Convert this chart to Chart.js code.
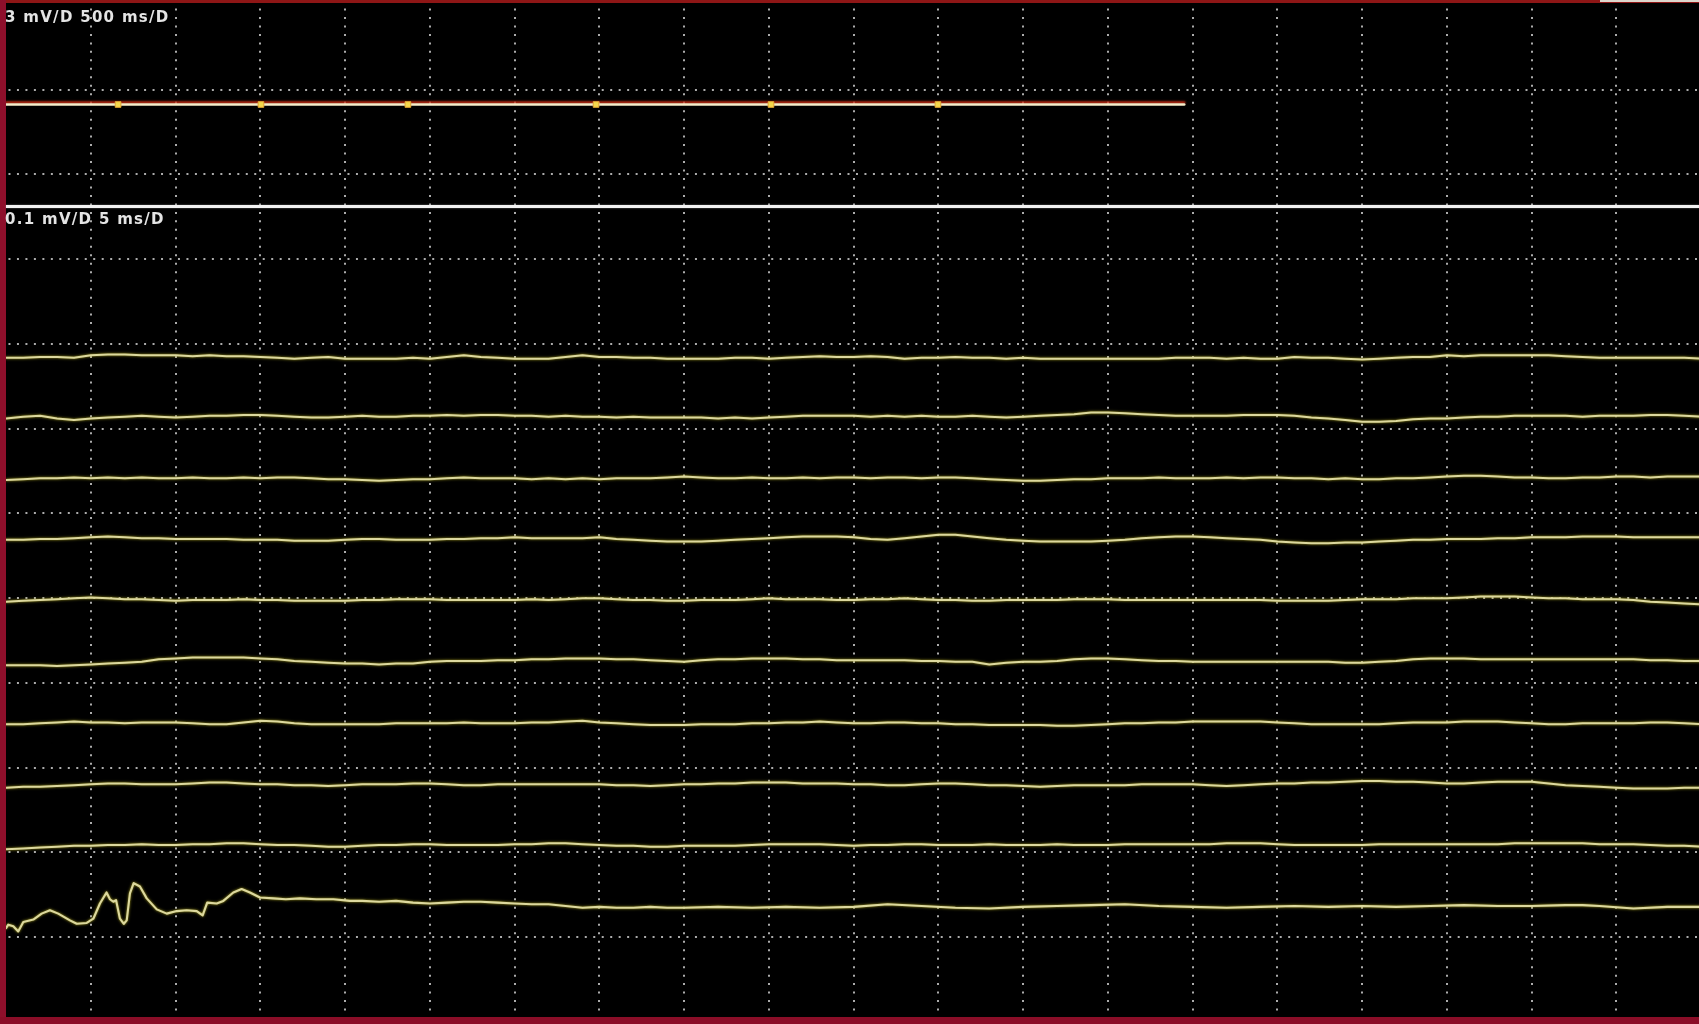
<!DOCTYPE html>
<html>
<head>
<meta charset="utf-8">
<title>ECG sweeps</title>
<script src="https://cdn.jsdelivr.net/npm/chart.js@4/dist/chart.umd.min.js"></script>
<style>
  html, body { margin: 0; padding: 0; background: #000; overflow: hidden; }
  #stage { position: relative; width: 1699px; height: 1024px; background: #000; }
  #ecg { position: absolute; left: 0; top: 0; }
  .frame { position: absolute; pointer-events: none; }
  .scale-label {
    position: absolute; left: 5px; margin: 0;
    font: bold 15px/15px "DejaVu Sans", sans-serif;
    letter-spacing: 1.3px; color: #e4e4e4; white-space: nowrap;
  }
</style>
</head>
<body>
<div id="stage">
  <canvas id="ecg" width="1699" height="1024"></canvas>
  <div class="frame" style="left:0;top:0;width:1699px;height:3px;background:#8e1616;"></div>
  <div class="frame" style="left:1600px;top:0;width:99px;height:2px;background:#ddd6cc;"></div>
  <div class="frame" style="left:0;top:0;width:6px;height:1024px;background:#8e0f2b;"></div>
  <div class="frame" style="left:0;top:1017px;width:1699px;height:7px;background:#8a0d27;"></div>
  <div class="frame" style="left:6px;top:204.5px;width:1693px;height:3.5px;background:#f2f2f2;box-shadow:0 0 1.5px #9a9a9a;"></div>
  <p class="scale-label" id="rhythmLabel" style="top:10px;"></p>
  <p class="scale-label" id="sweepLabel" style="top:212px;"></p>
</div>
<script>
// ---- Scales shown in the two panels ----
const RHYTHM_MV_PER_DIV = 3;
const RHYTHM_MS_PER_DIV = 500;
const SWEEP_MV_PER_DIV = 0.1;
const SWEEP_MS_PER_DIV = 5;

// ---- Rhythm strip (mV) ----
const rhythmTimesMs = [0, 500, 1000, 1500, 2000, 2500, 3000, 3500, 4000, 4500, 5000, 5500, 6000, 6500, 6950];
const rhythmMv      = [0, 0, 0, 0, 0, 0, 0, 0, 0, 0, 0, 0, 0, 0, 0];
// detected beats on the rhythm strip
const beatTimesMs = [660, 1503, 2370, 3480, 4512, 5497];

// ---- Sweeps, sampled every 1 ms (values in µV) ----
const sweepTimesMs = [
  0, 1, 2, 3, 4, 5, 6, 7, 8, 9,
  10, 11, 12, 13, 14, 15, 16, 17, 18, 19,
  20, 21, 22, 23, 24, 25, 26, 27, 28, 29,
  30, 31, 32, 33, 34, 35, 36, 37, 38, 39,
  40, 41, 42, 43, 44, 45, 46, 47, 48, 49,
  50, 51, 52, 53, 54, 55, 56, 57, 58, 59,
  60, 61, 62, 63, 64, 65, 66, 67, 68, 69,
  70, 71, 72, 73, 74, 75, 76, 77, 78, 79,
  80, 81, 82, 83, 84, 85, 86, 87, 88, 89,
  90, 91, 92, 93, 94, 95, 96, 97, 98, 99,
  100
];

const sweep1Uv = [
  -1, -1, 0, 0, -1, 2, 3, 3, 2, 2,
  2, 1, 2, 1, 1, 0, -1, -2, -1, 0,
  -2, -2, -2, -2, -1, -2, 0, 2, 0, -1,
  -2, -2, -2, 0, 2, 0, 0, -1, -1, -2,
  -2, -2, -2, -1, -1, -2, -1, 0, 1, 0,
  0, 1, 0, -2, -1, -1, 0, -1, -1, -2,
  -1, -2, -2, -2, -2, -2, -2, -2, -2, -1,
  -1, -1, -2, -1, -2, -2, 0, -1, -1, -2,
  -3, -2, -1, 0, 0, 2, 1, 2, 2, 2,
  2, 2, 1, 0, -1, -1, -1, -1, -1, -1,
  -2
];

const sweep2Uv = [
  -2, 0, 1, -2, -4, -2, -1, 0, 1, 0,
  -1, 0, 1, 1, 2, 2, 1, 0, -1, -1,
  0, 1, 0, 0, 1, 1, 2, 1, 2, 2,
  1, 1, 0, 1, 0, 0, -1, 0, -1, -1,
  -1, -1, -2, -1, -2, -1, 0, 1, 1, 1,
  1, 0, 1, 0, 1, 0, 0, 1, 0, -1,
  0, 1, 2, 3, 5, 5, 4, 3, 2, 1,
  1, 1, 1, 2, 2, 2, 1, -1, -2, -4,
  -6, -6, -5, -3, -2, -2, -1, 0, 0, 1,
  1, 1, 1, 0, 1, 1, 1, 2, 2, 1,
  0
];

const sweep3Uv = [
  -2, -1, 0, 0, 1, 0, 1, 0, 1, 0,
  0, 1, 0, 0, 1, 0, 1, 1, 0, -1,
  -1, -2, -3, -2, -1, -1, 0, 1, 0, 0,
  0, -1, 0, -1, 0, -1, 0, 0, 0, 1,
  2, 1, 0, 0, 1, 0, 0, 1, 0, 1,
  1, 0, 1, 1, 0, 1, 1, 0, -1, -2,
  -3, -3, -2, -1, -1, 0, 0, 0, 1, 0,
  0, 0, 1, 0, 1, 1, 0, 0, -1, 0,
  -1, -1, 0, 0, 1, 2, 3, 3, 2, 1,
  1, 0, 0, 1, 1, 2, 2, 1, 2, 2,
  2
];

const sweep4Uv = [
  -1, -1, 0, 0, 1, 2, 3, 2, 1, 1,
  0, 0, 0, 0, -1, -1, -1, -2, -2, -2,
  -1, 0, 0, -1, -1, -1, 0, 0, 1, 1,
  2, 1, 1, 1, 1, 2, 0, -1, -2, -3,
  -3, -3, -2, -1, 0, 1, 2, 3, 3, 3,
  2, 0, -1, 1, 3, 5, 5, 3, 1, -1,
  -2, -3, -3, -3, -3, -2, -1, 1, 2, 3,
  3, 2, 1, 0, -1, -3, -4, -5, -5, -4,
  -4, -3, -2, -1, -1, 0, 0, 0, 1, 1,
  2, 2, 2, 3, 3, 3, 2, 2, 2, 2,
  2
];

const sweep5Uv = [
  -2, -1, 0, 1, 2, 3, 2, 1, 1, 0,
  -1, 0, 0, 0, 1, 0, 0, -1, -1, -1,
  -1, 0, 0, 1, 1, 1, 0, 0, 0, 0,
  0, 1, 0, 1, 2, 2, 1, 0, 0, -1,
  -1, 0, 0, 0, 1, 2, 1, 1, 1, 0,
  0, 1, 1, 2, 1, 0, 0, -1, -1, 0,
  0, 0, 0, 1, 1, 1, 0, 0, 0, 0,
  0, 0, 0, 0, 0, -1, -1, -1, -1, 0,
  1, 1, 1, 2, 2, 2, 3, 4, 4, 4,
  3, 2, 2, 1, 1, 1, 0, -2, -3, -4,
  -5
];

const sweep6Uv = [
  -5, -5, -5, -6, -5, -4, -3, -2, -1, 2,
  3, 4, 4, 4, 4, 3, 2, 0, -1, -2,
  -3, -3, -4, -3, -3, -1, 0, 0, 0, 1,
  1, 2, 2, 3, 3, 3, 2, 2, 1, 0,
  -1, 1, 2, 2, 3, 3, 3, 2, 2, 1,
  1, 1, 1, 1, 0, 0, -1, -1, -4, -2,
  -1, -1, 0, 2, 3, 3, 2, 1, 0, 0,
  -1, -1, -1, -1, -1, -1, -1, -1, -1, -2,
  -2, -1, 0, 2, 3, 3, 3, 2, 2, 2,
  2, 2, 2, 2, 2, 2, 2, 1, 1, 0,
  0
];

const sweep7Uv = [
  -1, -1, 0, 1, 2, 1, 1, 0, 1, 1,
  1, 0, -1, -1, 1, 3, 2, 0, -1, -1,
  -1, -1, -1, 0, 0, 0, 0, 1, 0, 0,
  0, 1, 1, 2, 3, 1, 0, -1, -2, -2,
  -2, -1, -1, -1, 0, 0, 1, 1, 2, 1,
  0, 0, 1, 1, 0, 0, -1, -1, -2, -2,
  -2, -2, -3, -3, -2, -1, 0, 0, 1, 1,
  2, 2, 2, 2, 2, 1, 0, -1, -1, -1,
  -1, -1, 0, 1, 1, 1, 2, 2, 2, 1,
  0, -1, -1, 0, 0, 0, 0, 1, 1, 0,
  -1
];

const sweep8Uv = [
  -4, -3, -3, -2, -1, 0, 1, 1, 0, 0,
  0, 1, 2, 2, 1, 0, 0, -1, -1, -2,
  -1, 0, 0, 0, 1, 1, 0, -1, -1, 0,
  0, 0, 0, 0, 0, 0, -1, -1, -2, -1,
  0, 0, 1, 1, 2, 2, 2, 1, 1, 1,
  0, 0, -1, -1, 0, 1, 1, 0, -1, -1,
  -2, -3, -2, -1, -1, -1, -1, 0, 0, 0,
  0, -1, -2, -1, 0, 1, 1, 2, 2, 3,
  4, 4, 3, 3, 2, 1, 1, 2, 3, 3,
  3, 1, -1, -2, -3, -4, -5, -5, -5, -4,
  -4
];

const sweep9Uv = [
  -5, -4, -3, -2, -1, -1, 0, 0, 1, 0,
  0, 1, 1, 2, 2, 1, 0, 0, -1, -2,
  -2, -1, 0, 0, 1, 1, 0, 0, 0, 0,
  1, 1, 2, 2, 1, 0, -1, -1, -2, -2,
  -1, -1, -1, -1, 0, 1, 1, 1, 1, 0,
  -1, 0, 0, 1, 1, 0, 0, 0, 1, 0,
  0, 0, 1, 0, 0, 0, 1, 1, 1, 1,
  1, 1, 2, 2, 2, 1, 0, 0, 0, 0,
  0, 1, 1, 1, 1, 1, 1, 1, 1, 2,
  2, 2, 2, 2, 1, 1, 1, 0, -1, -1,
  -2
];

// last sweep: [time ms, µV], denser where the deflections are
const sweep10 = [
  [0, -26], [0.12, -22], [0.42, -24], [0.71, -30], [1.01, -19], [1.6, -16],
  [2.09, -9], [2.58, -5], [3.07, -9], [3.76, -17], [4.16, -21], [4.75, -20],
  [5.14, -15], [5.53, 3], [5.92, 16], [6.12, 8], [6.32, 5], [6.48, 7],
  [6.71, -15], [6.94, -21], [7.11, -17], [7.3, 15], [7.52, 27], [7.89, 23],
  [8.29, 9], [8.88, -4], [9.47, -9], [10.06, -6], [10.65, -5], [11.24, -6],
  [11.59, -11], [11.86, 4], [12.42, 3], [12.81, 6], [13.4, 16], [13.89, 20],
  [14.38, 16], [14.97, 10], [15.76, 9], [16.5, 8], [17.33, 9], [18.3, 8],
  [19.3, 8], [20.28, 6], [21, 6], [22, 5], [23, 6], [24, 4], [25, 3],
  [26, 4], [27, 5], [28, 5], [29, 4], [30, 3], [31, 2], [32, 2], [33, 0],
  [34, -2], [35, -1], [36, -2], [37, -2], [38, -1], [39, -2], [40, -2],
  [42, -1], [44, -2], [46, -1], [48, -2], [50, -1], [52, 2], [54, 0],
  [56, -2], [58, -3], [60, -1], [62, 0], [64, 1], [66, 2], [68, 0],
  [70, -1], [72, -2], [74, -1], [76, 0], [78, -1], [80, 0], [82, -1],
  [84, 0], [86, 1], [88, 0], [90, 0], [92, 1], [93, 1], [94, 0],
  [96, -3], [98, -1], [100, -1]
];

// ---- Screen layout ----
const CANVAS_W = 1699, CANVAS_H = 1024;
const PX_PER_DIV = 84.75;          // one grid division
const GRID_LEFT_PX = 6.2, GRID_TOP_PX = 4.9;
const RHYTHM_BASELINE_PX = 104.5;
const SWEEP_BASELINE_PX = [357, 416.7, 478.3, 539, 600, 661, 723.3, 784.3, 845, 906];
const GRID_COLOR = '#acacac';
const TRACE_COLOR = '#dcd89e';
const TRACE_GLOW = 'rgba(190,180,36,0.95)';

const toDiv = px => (px - GRID_TOP_PX) / PX_PER_DIV;

document.getElementById('rhythmLabel').textContent =
  `${RHYTHM_MV_PER_DIV} mV/D ${RHYTHM_MS_PER_DIV} ms/D`;
document.getElementById('sweepLabel').textContent =
  `${SWEEP_MV_PER_DIV} mV/D ${SWEEP_MS_PER_DIV} ms/D`;

// soft coloured halo around a dataset's stroke
const glowPlugin = {
  id: 'traceGlow',
  beforeDatasetDraw(chart, args) {
    const g = chart.data.datasets[args.index].glow;
    if (!g) return;
    const ctx = chart.ctx;
    ctx.save();
    ctx.shadowColor = g.color;
    ctx.shadowBlur = g.blur;
    ctx.shadowOffsetX = 0;
    ctx.shadowOffsetY = g.offsetY || 0;
  },
  afterDatasetDraw(chart, args) {
    if (chart.data.datasets[args.index].glow) chart.ctx.restore();
  }
};

const rhythmBase = toDiv(RHYTHM_BASELINE_PX);
const rhythmPoint = (t, mv) => ({ x: t / RHYTHM_MS_PER_DIV, y: rhythmBase - mv / RHYTHM_MV_PER_DIV });
const sweepPoint = (base, t, uv) => ({ x: t / SWEEP_MS_PER_DIV, y: base - (uv / 1000) / SWEEP_MV_PER_DIV });

const sweepValues = [sweep1Uv, sweep2Uv, sweep3Uv, sweep4Uv, sweep5Uv, sweep6Uv, sweep7Uv, sweep8Uv, sweep9Uv];

const datasets = [];

datasets.push({
  label: 'beats',
  data: beatTimesMs.map(t => rhythmPoint(t, 0)),
  showLine: false,
  pointStyle: 'rect',
  pointRadius: 4,
  pointBackgroundColor: '#f4d84c',
  pointBorderColor: '#e3a534',
  pointBorderWidth: 1
});

datasets.push({
  label: 'rhythm',
  data: rhythmTimesMs.map((t, i) => rhythmPoint(t, rhythmMv[i])),
  borderColor: '#f6eecb',
  borderWidth: 2.6,
  pointRadius: 0,
  glow: { color: 'rgba(205,45,20,0.95)', blur: 2, offsetY: -2 }
});

sweepValues.forEach((vals, i) => {
  const base = toDiv(SWEEP_BASELINE_PX[i]);
  datasets.push({
    label: 'sweep ' + (i + 1),
    data: sweepTimesMs.map((t, k) => sweepPoint(base, t, vals[k])),
    borderColor: TRACE_COLOR,
    borderWidth: 2,
    pointRadius: 0,
    glow: { color: TRACE_GLOW, blur: 2.5 }
  });
});

{
  const base = toDiv(SWEEP_BASELINE_PX[9]);
  datasets.push({
    label: 'sweep 10',
    data: sweep10.map(([t, uv]) => sweepPoint(base, t, uv)),
    borderColor: TRACE_COLOR,
    borderWidth: 2.1,
    pointRadius: 0,
    glow: { color: TRACE_GLOW, blur: 2.5 }
  });
}

const gridColor = ctx => (ctx.tick && ctx.tick.value === 0) ? 'rgba(0,0,0,0)' : GRID_COLOR;

const axis = (min, max, extra) => Object.assign({
  type: 'linear',
  min, max,
  ticks: { display: false, stepSize: 1, includeBounds: false },
  grid: { color: gridColor, lineWidth: 2, drawTicks: false },
  border: { display: false, dash: [2, PX_PER_DIV / 10 - 2] },
  title: { display: false }
}, extra);

new Chart(document.getElementById('ecg'), {
  type: 'line',
  data: { datasets },
  options: {
    responsive: false,
    devicePixelRatio: 1,
    animation: false,
    events: [],
    layout: { padding: 0, autoPadding: false },
    elements: { line: { tension: 0, borderJoinStyle: 'round', borderCapStyle: 'round' } },
    plugins: { legend: { display: false }, tooltip: { enabled: false }, title: { display: false } },
    scales: {
      x: axis(-GRID_LEFT_PX / PX_PER_DIV, (CANVAS_W - GRID_LEFT_PX) / PX_PER_DIV,
        { afterFit: s => { s.height = 0; } }),
      y: axis(-GRID_TOP_PX / PX_PER_DIV, (CANVAS_H - GRID_TOP_PX) / PX_PER_DIV,
        { reverse: true, afterFit: s => { s.width = 0; } })
    }
  },
  plugins: [glowPlugin]
});
</script>
</body>
</html>
